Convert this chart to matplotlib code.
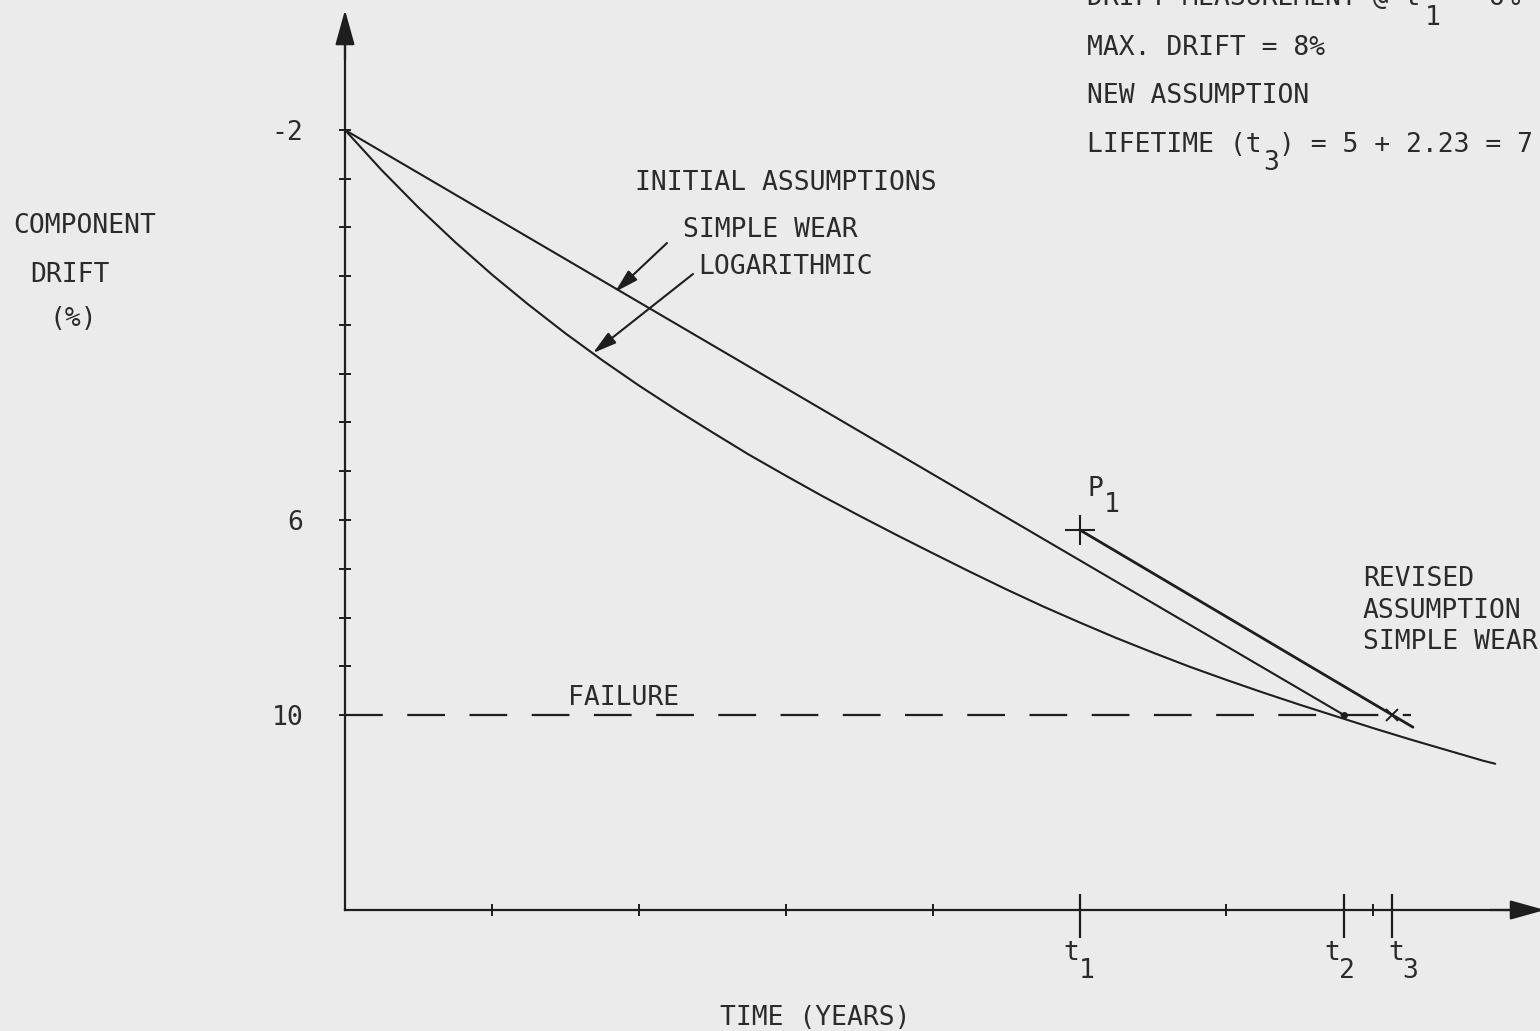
import matplotlib
matplotlib.use("Agg")
import matplotlib.pyplot as plt

# ---------------- data ----------------
years_log = [0, 0.25, 0.5, 0.75, 1.0, 1.25, 1.5, 1.75, 2.0, 2.25, 2.5, 2.75, 3.0,
             3.25, 3.5, 3.75, 4.0, 4.25, 4.5, 4.75, 5.0, 5.25, 5.5, 5.75, 6.0,
             6.25, 6.5, 6.75, 7.0, 7.25, 7.5, 7.75, 7.83]
drift_log = [-2.0, -1.175, -0.41, 0.30, 0.965, 1.585, 2.17, 2.72, 3.24, 3.73, 4.20,
             4.66, 5.09, 5.51, 5.91, 6.30, 6.68, 7.055, 7.42, 7.77, 8.10, 8.42,
             8.72, 9.01, 9.28, 9.54, 9.79, 10.03, 10.27, 10.50, 10.72, 10.94, 11.0]
years_wear = [0, 6.8]
drift_wear = [-2, 10]
years_revised = [5, 7.27]
drift_revised = [6.2, 10.25]
p1_year, p1_drift = 5, 6.2
failure_level = 10
failure_span = [0, 7.26]
t_marks = [5, 6.8, 7.13]
t_subs = ["1", "2", "3"]
year_ticks = [1, 2, 3, 4, 6, 7]
drift_ticks = list(range(-2, 11))
drift_tick_labels = ["-2", "", "", "", "", "", "", "", "6", "", "", "", "10"]

# ---------------- styling ----------------
W, H = 1540, 1031
BG = "#ebebeb"
INK = "#1e1e1e"
TXT = "#2b2b2b"
FONT = "DejaVu Sans Mono"
FS = 19

# pixel scale of the original drawing
X0, XS = 345, 146.9     # px of year 0, px per year
Y0, YS = 130, 48.75     # px of drift -2, px per %


def d2x(px):
    return (px - X0) / XS


def d2y(py):
    return -2 + (py - Y0) / YS


def fpos(px, py):
    return px / W, 1 - py / H


fig = plt.figure(figsize=(W / 100, H / 100), dpi=100)
fig.patch.set_facecolor(BG)
ax = fig.add_axes([0, 0, 1, 1])
ax.set_facecolor(BG)
ax.set_xlim(d2x(0), d2x(W))
ax.set_ylim(d2y(H), d2y(0))

# axes lines
for s in ("top", "right"):
    ax.spines[s].set_visible(False)
ax.spines["left"].set_position(("data", 0))
ax.spines["bottom"].set_position(("data", 14))
ax.spines["left"].set_bounds(14, d2y(40))
ax.spines["bottom"].set_bounds(0, d2x(1520))
for s in ("left", "bottom"):
    ax.spines[s].set_linewidth(1.6)
    ax.spines[s].set_color(INK)

ax.set_yticks(drift_ticks)
ax.set_yticklabels(drift_tick_labels, fontfamily=FONT, fontsize=FS, color=TXT)
ax.tick_params(axis="y", direction="inout", length=9, width=1.4, color=INK, pad=25.5)
ax.set_xticks(year_ticks)
ax.set_xticklabels([""] * len(year_ticks))
ax.tick_params(axis="x", direction="inout", length=8, width=1.4, color=INK)

# arrow heads
head = dict(arrowstyle="-|>,head_length=1.08,head_width=0.3", color=INK, lw=1.6,
            mutation_scale=20, shrinkA=0, shrinkB=0)
ax.annotate("", xy=(0, d2y(10)), xytext=(0, d2y(60)), arrowprops=head, annotation_clip=False)
ax.annotate("", xy=(d2x(1545), 14), xytext=(d2x(1490), 14), arrowprops=head, annotation_clip=False)

# t ticks
ax.vlines(t_marks, 14 - 16 / YS, 14 + 28 / YS, color=INK, lw=1.6)

# curves
ax.plot(years_log, drift_log, color=INK, lw=1.5, solid_capstyle="round",
        solid_joinstyle="round")
ax.plot(years_wear, drift_wear, color=INK, lw=1.5, solid_capstyle="round")
ax.plot(years_revised, drift_revised, color=INK, lw=2.0, solid_capstyle="round")
ax.hlines(failure_level, failure_span[0], failure_span[1], color=INK, lw=1.6,
          linestyles=(0, (17, 11)))
ax.plot([p1_year], [p1_drift], marker="+", ms=22, mew=1.5, color=INK)
ax.plot([t_marks[1]], [failure_level], marker="o", ms=4, color=INK)
ax.plot([t_marks[2]], [failure_level], marker="x", ms=8, mew=1.4, color=INK)

# pointer arrows
ptr = dict(arrowstyle="-|>,head_length=0.9,head_width=0.25", color=INK, lw=1.5,
           mutation_scale=16, shrinkA=0, shrinkB=0)
ax.annotate("", xy=(d2x(615), d2y(292)), xytext=(d2x(667), d2y(243)), arrowprops=ptr)
ax.annotate("", xy=(d2x(593), d2y(353)), xytext=(d2x(693), d2y(274)), arrowprops=ptr)


def txt(px, py, s, size=FS):
    x, y = fpos(px, py)
    fig.text(x, y, s, fontfamily=FONT, fontsize=size, color=TXT, va="baseline", ha="left")


# texts (top-right notes, partly cut by the page edge as in the scan)
txt(1087, 5, "DRIFT MEASUREMENT @ t")
txt(1425, 25, "1")
txt(1457, 5, "= 6%")
txt(1087, 55, "MAX. DRIFT = 8%")
txt(1087, 103, "NEW ASSUMPTION")
txt(1087, 152, "LIFETIME (t")
txt(1263, 170, "3")
txt(1279, 152, ") = 5 + 2.23 = 7")

txt(635, 190, "INITIAL ASSUMPTIONS")
txt(683, 237, "SIMPLE WEAR")
txt(698, 274, "LOGARITHMIC")

txt(13, 233, "COMPONENT")
txt(30, 282, "DRIFT")
txt(50, 326, "(%)")

txt(568, 705, "FAILURE")
txt(1087, 496, "P")
txt(1104, 512, "1")

txt(1363, 586, "REVISED")
txt(1363, 618, "ASSUMPTION")
txt(1363, 649, "SIMPLE WEAR")

txt(720, 1025, "TIME (YEARS)")

t_label_px = [(1063, 1079), (1324, 1339), (1388, 1402)]
for (tx, sx), sub in zip(t_label_px, t_subs):
    txt(tx, 960, "t")
    txt(sx, 978, sub)

fig.savefig("out.png", dpi=100, facecolor=BG)
